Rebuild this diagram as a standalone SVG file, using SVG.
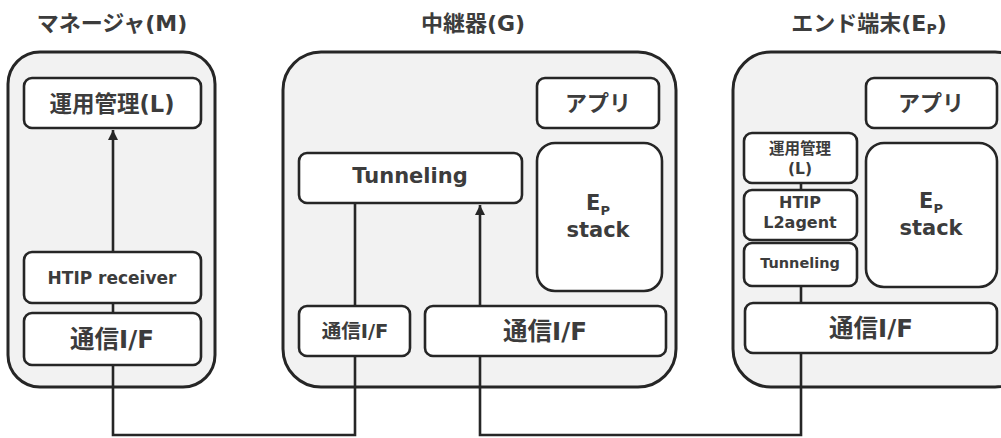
<svg xmlns="http://www.w3.org/2000/svg" width="1001" height="438" viewBox="0 0 1001 438">
  <style>
    .container { fill: #f2f2f2; stroke: #262626; stroke-width: 3; }
    .box { fill: #ffffff; stroke: #262626; stroke-width: 2.6; }
    .wire { fill: none; stroke: #262626; stroke-width: 2.6; }
    text { font-family: "DejaVu Sans", "Noto Sans CJK JP", sans-serif; font-weight: bold; fill: #3c3c3c; text-anchor: middle; }
    .title { font-size: 22px; }
  </style>
  <defs>
    <marker id="arrow" viewBox="0 0 10 10" refX="10" refY="5" markerWidth="4" markerHeight="4" orient="auto" markerUnits="strokeWidth">
      <path d="M0,0 L10,5 L0,10 z" fill="#262626"/>
    </marker>
  </defs>

  <rect width="1001" height="438" fill="#ffffff"/>

  <!-- Manager (M) -->
  <g id="manager">
    <text class="title" x="112" y="31">マネージャ(M)</text>
    <rect class="container" x="8" y="52" width="207" height="335" rx="32"/>
    <g id="m-opmgmt">
      <rect class="box" x="24" y="78" width="177" height="50" rx="8"/>
      <text x="112" y="112" font-size="22.5">運用管理(L)</text>
    </g>
    <g id="m-htip">
      <rect class="box" x="24" y="252" width="177" height="51" rx="8"/>
      <text x="112" y="284" font-size="17">HTIP receiver</text>
    </g>
    <g id="m-if">
      <rect class="box" x="24" y="313" width="177" height="52" rx="8"/>
      <text x="112" y="348" font-size="24.5">通信I/F</text>
    </g>
  </g>

  <!-- Gateway (G) -->
  <g id="gateway">
    <text class="title" x="473" y="31">中継器(G)</text>
    <rect class="container" x="283" y="52" width="393" height="335" rx="38"/>
    <g id="g-app">
      <rect class="box" x="537" y="78" width="122" height="50" rx="8"/>
      <text x="598" y="111" font-size="22">アプリ</text>
    </g>
    <g id="g-stack">
      <rect class="box" x="537" y="143" width="125" height="148" rx="18"/>
      <text x="598" y="210" font-size="21">E<tspan font-size="13" dy="5">P</tspan></text>
      <text x="598" y="237" font-size="21">stack</text>
    </g>
    <g id="g-tunnel">
      <rect class="box" x="299" y="153" width="223" height="50" rx="8"/>
      <text x="410" y="183" font-size="21">Tunneling</text>
    </g>
    <g id="g-if-small">
      <rect class="box" x="299" y="306" width="111" height="50" rx="8"/>
      <text x="355" y="338" font-size="19.5">通信I/F</text>
    </g>
    <g id="g-if-large">
      <rect class="box" x="425" y="306" width="241" height="50" rx="8"/>
      <text x="545" y="340" font-size="24.5">通信I/F</text>
    </g>
  </g>

  <!-- End terminal (EP) -->
  <g id="endpoint">
    <text class="title" x="869" y="31">エンド端末(E<tspan font-size="14" dy="3">P</tspan><tspan dy="-3">)</tspan></text>
    <rect class="container" x="733" y="52" width="300" height="335" rx="38"/>
    <g id="e-app">
      <rect class="box" x="866" y="78" width="131" height="50" rx="8"/>
      <text x="931" y="111" font-size="22">アプリ</text>
    </g>
    <g id="e-stack">
      <rect class="box" x="866" y="143" width="131" height="144" rx="18"/>
      <text x="931" y="208" font-size="21">E<tspan font-size="13" dy="5">P</tspan></text>
      <text x="931" y="235" font-size="21">stack</text>
    </g>
    <g id="e-opmgmt">
      <rect class="box" x="744" y="133" width="113" height="50" rx="8"/>
      <text x="800" y="154" font-size="15.5">運用管理</text>
      <text x="800" y="174" font-size="15.5">(L)</text>
    </g>
    <g id="e-htip">
      <rect class="box" x="744" y="190" width="113" height="50" rx="8"/>
      <text x="800" y="208" font-size="16">HTIP</text>
      <text x="800" y="228" font-size="16">L2agent</text>
    </g>
    <g id="e-tunnel">
      <rect class="box" x="744" y="243" width="113" height="43" rx="8"/>
      <text x="800" y="268" font-size="14.5">Tunneling</text>
    </g>
    <g id="e-if">
      <rect class="box" x="745" y="303" width="252" height="50" rx="8"/>
      <text x="871" y="337" font-size="24.5">通信I/F</text>
    </g>
  </g>

  <!-- Connectors -->
  <g id="connectors">
    <path class="wire" d="M113 252 V130" marker-end="url(#arrow)"/>
    <path class="wire" d="M113 303 V313"/>
    <path class="wire" d="M113 365 V435 H355 V356"/>
    <path class="wire" d="M355 306 V203"/>
    <path class="wire" d="M480 306 V205" marker-end="url(#arrow)"/>
    <path class="wire" d="M480 356 V435 H801 V353"/>
    <path class="wire" d="M801 183 V190"/>
    <path class="wire" d="M801 286 V303"/>
  </g>
</svg>
